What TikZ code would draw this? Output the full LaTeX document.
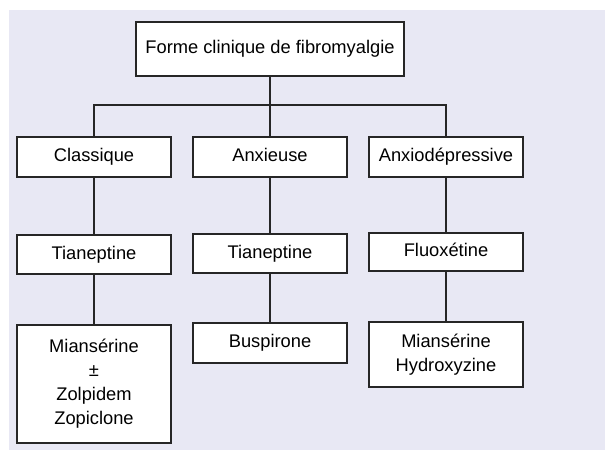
\documentclass[tikz,border=0pt]{standalone}
\usepackage{fontspec}
\setmainfont{Liberation Sans}
\usepackage{tikz}
\definecolor{panel}{HTML}{E8E8F4}

\begin{document}
\begin{tikzpicture}[x=1pt,y=-1pt,
  box/.style={draw=black!85,line width=1.4pt,fill=white,inner sep=0pt,
    minimum width=154pt,align=center,font=\fontsize{18.3}{24}\selectfont},
  oneline/.style={box,text height=13.3pt,text depth=3.9pt},
  link/.style={draw=black!85,line width=1.4pt}]
 \useasboundingbox (0,0) rectangle (605,450);
 \fill[panel] (9,10) rectangle (605,450);
 \node[oneline,minimum width=268pt,minimum height=54pt] (forme) at (270,49) {Forme clinique de fibromyalgie};
 \node[oneline,minimum height=40pt] (classique) at (94,157) {Classique};
 \node[oneline,minimum height=40pt] (anxieuse) at (270,157) {Anxieuse};
 \node[oneline,minimum height=40pt] (anxiodep) at (446,157) {Anxiodépressive};
 \node[oneline,minimum height=39pt] (tian1) at (94,254.5) {Tianeptine};
 \node[oneline,minimum height=39pt] (tian2) at (270,253.5) {Tianeptine};
 \node[oneline,minimum height=38pt] (fluox) at (446,252) {Fluoxétine};
 \node[box,minimum height=118pt] (mianz) at (94,384) {Miansérine\\±\\Zolpidem\\Zopiclone};
 \node[oneline,minimum height=40pt] (buspi) at (270,343) {Buspirone};
 \node[box,minimum height=65pt] (mianh) at (446,354.5) {Miansérine\\Hydroxyzine};
 \coordinate (fork) at (270,105);
 \draw[link] (forme.south) -- (fork) -- (anxieuse.north);
 \draw[link] (classique.north) |- (fork) -| (anxiodep.north);
 \draw[link] (classique) -- (tian1) -- (mianz);
 \draw[link] (anxieuse) -- (tian2) -- (buspi);
 \draw[link] (anxiodep) -- (fluox) -- (mianh);
\end{tikzpicture}
\end{document}
